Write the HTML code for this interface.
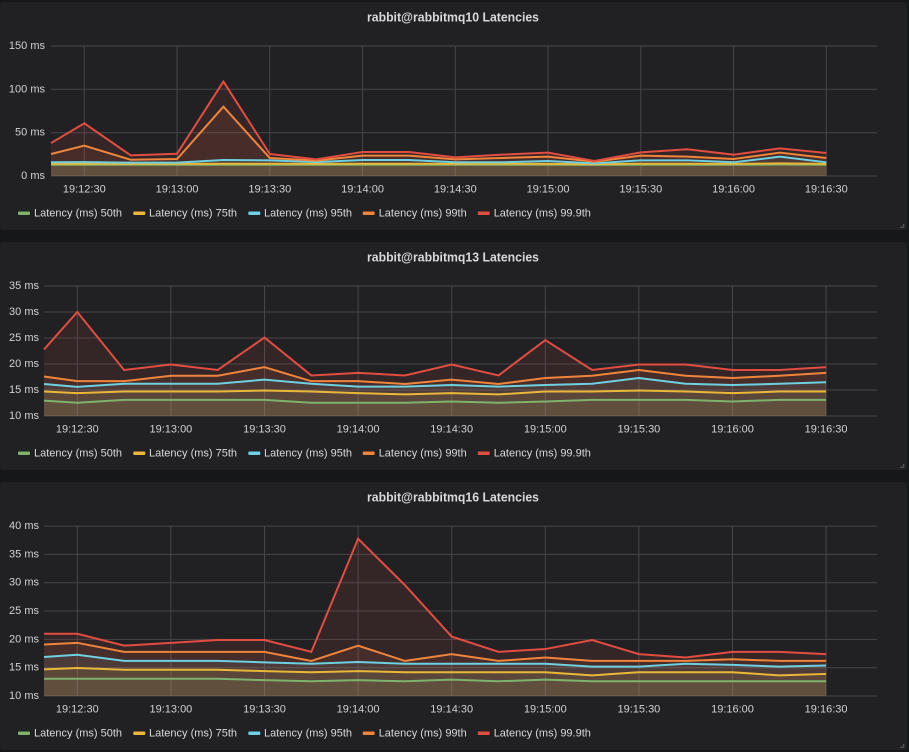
<!DOCTYPE html>
<html><head><meta charset="utf-8"><style>
html,body{margin:0;padding:0;background:#161719;}
svg{display:block;font-family:"Liberation Sans",sans-serif;}
.t{font-size:12.5px;font-weight:bold;fill:#d8d9da;}
.yl{font-size:11px;fill:#d0d1d3;text-anchor:end;}
.xl{font-size:11px;fill:#d0d1d3;text-anchor:middle;}
.lg{font-size:11px;fill:#d8d9da;}
.g{stroke:#46464a;stroke-width:1;}
.ln{fill:none;stroke-width:2;vector-effect:non-scaling-stroke;stroke-linejoin:miter;}
.fl{fill-opacity:0.1;stroke:none;}
</style></head><body>
<svg width="909" height="752" viewBox="0 0 909 752" xmlns="http://www.w3.org/2000/svg">
<rect x="0" y="0" width="909" height="752" fill="#161719"/>

<!-- ================= PANEL 1 ================= -->
<rect x="0" y="2" width="907" height="228" rx="3" fill="#212124"/>
<text class="t" x="453" y="21.5" text-anchor="middle" textLength="172" lengthAdjust="spacingAndGlyphs">rabbit@rabbitmq10 Latencies</text>
<g class="g">
<line x1="51" y1="46" x2="877" y2="46"/>
<line x1="51" y1="89.3" x2="877" y2="89.3"/>
<line x1="51" y1="132.7" x2="877" y2="132.7"/>
<line x1="51" y1="176" x2="877" y2="176"/>
<line x1="84.3" y1="46" x2="84.3" y2="176"/>
<line x1="177.05" y1="46" x2="177.05" y2="176"/>
<line x1="269.8" y1="46" x2="269.8" y2="176"/>
<line x1="362.55" y1="46" x2="362.55" y2="176"/>
<line x1="455.3" y1="46" x2="455.3" y2="176"/>
<line x1="548.05" y1="46" x2="548.05" y2="176"/>
<line x1="640.8" y1="46" x2="640.8" y2="176"/>
<line x1="733.55" y1="46" x2="733.55" y2="176"/>
<line x1="826.3" y1="46" x2="826.3" y2="176"/>
</g>
<text class="yl" x="45" y="49">150 ms</text>
<text class="yl" x="45" y="92.3">100 ms</text>
<text class="yl" x="45" y="135.7">50 ms</text>
<text class="yl" x="45" y="179">0 ms</text>
<text class="xl" x="84.3" y="192.3">19:12:30</text>
<text class="xl" x="177.05" y="192.3">19:13:00</text>
<text class="xl" x="269.8" y="192.3">19:13:30</text>
<text class="xl" x="362.55" y="192.3">19:14:00</text>
<text class="xl" x="455.3" y="192.3">19:14:30</text>
<text class="xl" x="548.05" y="192.3">19:15:00</text>
<text class="xl" x="640.8" y="192.3">19:15:30</text>
<text class="xl" x="733.55" y="192.3">19:16:00</text>
<text class="xl" x="826.3" y="192.3">19:16:30</text>
<g transform="matrix(46.375 0 0 -0.86667 84.3 176)">
<polygon class="fl" fill="#7EB26D" points="-0.718,13 0,13 1,13 2,13 3,13 4,13 5,13 6,13 7,13 8,13 9,13 10,13 11,12.8 12,13 13,13 14,13 15,13.2 16,13 16,0 -0.718,0"/>
<polygon class="fl" fill="#EAB839" points="-0.718,14 0,14 1,14 2,14 3,14.2 4,14.2 5,14 6,14.2 7,14.2 8,14 9,14 10,14 11,13.5 12,14.2 13,14.2 14,14 15,14.5 16,14 16,0 -0.718,0"/>
<polygon class="fl" fill="#6ED0E0" points="-0.718,15.8 0,16 1,15.4 2,15.4 3,18.5 4,18.1 5,16 6,18.5 7,18.5 8,15.8 9,15.8 10,17.3 11,14.6 12,18.1 13,18.1 14,15.8 15,22.3 16,15.8 16,0 -0.718,0"/>
<polygon class="fl" fill="#EF843C" points="-0.718,25.4 0,35 1,18.8 2,19.6 3,80 4,20.8 5,17.7 6,23.5 7,23.5 8,19.2 9,20.8 10,22.3 11,16.5 12,23.5 13,22.3 14,19.6 15,26.9 16,20.8 16,0 -0.718,0"/>
<polygon class="fl" fill="#E24D42" points="-0.718,38 0,60.8 1,23.8 2,25.7 3,109 4,25.4 5,19.2 6,27.7 7,27.7 8,21.5 9,24.6 10,26.9 11,17.3 12,27.3 13,30.8 14,24.6 15,31.9 16,26.5 16,0 -0.718,0"/>
<polyline class="ln" stroke="#7EB26D" points="-0.718,13 0,13 1,13 2,13 3,13 4,13 5,13 6,13 7,13 8,13 9,13 10,13 11,12.8 12,13 13,13 14,13 15,13.2 16,13"/>
<polyline class="ln" stroke="#EAB839" points="-0.718,14 0,14 1,14 2,14 3,14.2 4,14.2 5,14 6,14.2 7,14.2 8,14 9,14 10,14 11,13.5 12,14.2 13,14.2 14,14 15,14.5 16,14"/>
<polyline class="ln" stroke="#6ED0E0" points="-0.718,15.8 0,16 1,15.4 2,15.4 3,18.5 4,18.1 5,16 6,18.5 7,18.5 8,15.8 9,15.8 10,17.3 11,14.6 12,18.1 13,18.1 14,15.8 15,22.3 16,15.8"/>
<polyline class="ln" stroke="#EF843C" points="-0.718,25.4 0,35 1,18.8 2,19.6 3,80 4,20.8 5,17.7 6,23.5 7,23.5 8,19.2 9,20.8 10,22.3 11,16.5 12,23.5 13,22.3 14,19.6 15,26.9 16,20.8"/>
<polyline class="ln" stroke="#E24D42" points="-0.718,38 0,60.8 1,23.8 2,25.7 3,109 4,25.4 5,19.2 6,27.7 7,27.7 8,21.5 9,24.6 10,26.9 11,17.3 12,27.3 13,30.8 14,24.6 15,31.9 16,26.5"/>
</g>
<rect x="18" y="211.5" width="12" height="3.5" rx="1" fill="#7EB26D"/><text class="lg" x="34" y="216.7">Latency (ms) 50th</text>
<rect x="133.3" y="211.5" width="12" height="3.5" rx="1" fill="#EAB839"/><text class="lg" x="149" y="216.7">Latency (ms) 75th</text>
<rect x="248.3" y="211.5" width="12" height="3.5" rx="1" fill="#6ED0E0"/><text class="lg" x="264" y="216.7">Latency (ms) 95th</text>
<rect x="362.7" y="211.5" width="12" height="3.5" rx="1" fill="#EF843C"/><text class="lg" x="378.7" y="216.7">Latency (ms) 99th</text>
<rect x="477.7" y="211.5" width="12" height="3.5" rx="1" fill="#E24D42"/><text class="lg" x="493.7" y="216.7">Latency (ms) 99.9th</text>
<path d="M900 227.2 H904.2 M903.7 224 V227.7" stroke="#5c5c60" stroke-width="1.2" fill="none"/>

<!-- ================= PANEL 2 ================= -->
<rect x="0" y="242" width="907" height="228" rx="3" fill="#212124"/>
<text class="t" x="453" y="261.5" text-anchor="middle" textLength="172" lengthAdjust="spacingAndGlyphs">rabbit@rabbitmq13 Latencies</text>
<g class="g">
<line x1="44" y1="286" x2="877" y2="286"/>
<line x1="44" y1="312" x2="877" y2="312"/>
<line x1="44" y1="338" x2="877" y2="338"/>
<line x1="44" y1="364" x2="877" y2="364"/>
<line x1="44" y1="390" x2="877" y2="390"/>
<line x1="44" y1="416" x2="877" y2="416"/>
<line x1="77.3" y1="286" x2="77.3" y2="416"/>
<line x1="170.9" y1="286" x2="170.9" y2="416"/>
<line x1="264.5" y1="286" x2="264.5" y2="416"/>
<line x1="358.1" y1="286" x2="358.1" y2="416"/>
<line x1="451.7" y1="286" x2="451.7" y2="416"/>
<line x1="545.3" y1="286" x2="545.3" y2="416"/>
<line x1="638.9" y1="286" x2="638.9" y2="416"/>
<line x1="732.5" y1="286" x2="732.5" y2="416"/>
<line x1="826.1" y1="286" x2="826.1" y2="416"/>
</g>
<text class="yl" x="39" y="289">35 ms</text>
<text class="yl" x="39" y="315">30 ms</text>
<text class="yl" x="39" y="341">25 ms</text>
<text class="yl" x="39" y="367">20 ms</text>
<text class="yl" x="39" y="393">15 ms</text>
<text class="yl" x="39" y="419">10 ms</text>
<text class="xl" x="77.3" y="432.3">19:12:30</text>
<text class="xl" x="170.9" y="432.3">19:13:00</text>
<text class="xl" x="264.5" y="432.3">19:13:30</text>
<text class="xl" x="358.1" y="432.3">19:14:00</text>
<text class="xl" x="451.7" y="432.3">19:14:30</text>
<text class="xl" x="545.3" y="432.3">19:15:00</text>
<text class="xl" x="638.9" y="432.3">19:15:30</text>
<text class="xl" x="732.5" y="432.3">19:16:00</text>
<text class="xl" x="826.1" y="432.3">19:16:30</text>
<g transform="matrix(46.8 0 0 -5.2 77.3 468)">
<polygon class="fl" fill="#7EB26D" points="-0.7115,12.95 0,12.55 1,13.1 2,13.1 3,13.1 4,13.1 5,12.55 6,12.55 7,12.55 8,12.8 9,12.55 10,12.8 11,13.1 12,13.1 13,13.1 14,12.8 15,13.1 16,13.1 16,10 -0.7115,10"/>
<polygon class="fl" fill="#EAB839" points="-0.7115,14.7 0,14.4 1,14.7 2,14.7 3,14.7 4,14.9 5,14.7 6,14.4 7,14.15 8,14.4 9,14.15 10,14.7 11,14.7 12,14.9 13,14.7 14,14.4 15,14.7 16,14.7 16,10 -0.7115,10"/>
<polygon class="fl" fill="#6ED0E0" points="-0.7115,16.15 0,15.6 1,16.2 2,16.2 3,16.2 4,17 5,16.2 6,15.65 7,15.65 8,15.95 9,15.65 10,15.95 11,16.2 12,17.3 13,16.2 14,15.95 15,16.2 16,16.5 16,10 -0.7115,10"/>
<polygon class="fl" fill="#EF843C" points="-0.7115,17.6 0,16.7 1,16.7 2,17.75 3,17.75 4,19.4 5,16.7 6,16.7 7,16.15 8,17 9,16.15 10,17.3 11,17.75 12,18.85 13,17.75 14,17.3 15,17.75 16,18.3 16,10 -0.7115,10"/>
<polygon class="fl" fill="#E24D42" points="-0.7115,22.8 0,30 1,18.85 2,19.9 3,18.85 4,25.1 5,17.8 6,18.3 7,17.8 8,19.9 9,17.8 10,24.6 11,18.85 12,19.9 13,19.9 14,18.85 15,18.85 16,19.4 16,10 -0.7115,10"/>
<polyline class="ln" stroke="#7EB26D" points="-0.7115,12.95 0,12.55 1,13.1 2,13.1 3,13.1 4,13.1 5,12.55 6,12.55 7,12.55 8,12.8 9,12.55 10,12.8 11,13.1 12,13.1 13,13.1 14,12.8 15,13.1 16,13.1"/>
<polyline class="ln" stroke="#EAB839" points="-0.7115,14.7 0,14.4 1,14.7 2,14.7 3,14.7 4,14.9 5,14.7 6,14.4 7,14.15 8,14.4 9,14.15 10,14.7 11,14.7 12,14.9 13,14.7 14,14.4 15,14.7 16,14.7"/>
<polyline class="ln" stroke="#6ED0E0" points="-0.7115,16.15 0,15.6 1,16.2 2,16.2 3,16.2 4,17 5,16.2 6,15.65 7,15.65 8,15.95 9,15.65 10,15.95 11,16.2 12,17.3 13,16.2 14,15.95 15,16.2 16,16.5"/>
<polyline class="ln" stroke="#EF843C" points="-0.7115,17.6 0,16.7 1,16.7 2,17.75 3,17.75 4,19.4 5,16.7 6,16.7 7,16.15 8,17 9,16.15 10,17.3 11,17.75 12,18.85 13,17.75 14,17.3 15,17.75 16,18.3"/>
<polyline class="ln" stroke="#E24D42" points="-0.7115,22.8 0,30 1,18.85 2,19.9 3,18.85 4,25.1 5,17.8 6,18.3 7,17.8 8,19.9 9,17.8 10,24.6 11,18.85 12,19.9 13,19.9 14,18.85 15,18.85 16,19.4"/>
</g>
<rect x="18" y="451.5" width="12" height="3.5" rx="1" fill="#7EB26D"/><text class="lg" x="34" y="456.7">Latency (ms) 50th</text>
<rect x="133.3" y="451.5" width="12" height="3.5" rx="1" fill="#EAB839"/><text class="lg" x="149" y="456.7">Latency (ms) 75th</text>
<rect x="248.3" y="451.5" width="12" height="3.5" rx="1" fill="#6ED0E0"/><text class="lg" x="264" y="456.7">Latency (ms) 95th</text>
<rect x="362.7" y="451.5" width="12" height="3.5" rx="1" fill="#EF843C"/><text class="lg" x="378.7" y="456.7">Latency (ms) 99th</text>
<rect x="477.7" y="451.5" width="12" height="3.5" rx="1" fill="#E24D42"/><text class="lg" x="493.7" y="456.7">Latency (ms) 99.9th</text>
<path d="M900 467.2 H904.2 M903.7 464 V467.7" stroke="#5c5c60" stroke-width="1.2" fill="none"/>

<!-- ================= PANEL 3 ================= -->
<rect x="0" y="482" width="907" height="268" rx="3" fill="#212124"/>
<text class="t" x="453" y="501.5" text-anchor="middle" textLength="172" lengthAdjust="spacingAndGlyphs">rabbit@rabbitmq16 Latencies</text>
<g class="g">
<line x1="44" y1="526.1" x2="877" y2="526.1"/>
<line x1="44" y1="554.4" x2="877" y2="554.4"/>
<line x1="44" y1="582.7" x2="877" y2="582.7"/>
<line x1="44" y1="611" x2="877" y2="611"/>
<line x1="44" y1="639.4" x2="877" y2="639.4"/>
<line x1="44" y1="667.7" x2="877" y2="667.7"/>
<line x1="44" y1="696" x2="877" y2="696"/>
<line x1="77.3" y1="526" x2="77.3" y2="696"/>
<line x1="170.9" y1="526" x2="170.9" y2="696"/>
<line x1="264.5" y1="526" x2="264.5" y2="696"/>
<line x1="358.1" y1="526" x2="358.1" y2="696"/>
<line x1="451.7" y1="526" x2="451.7" y2="696"/>
<line x1="545.3" y1="526" x2="545.3" y2="696"/>
<line x1="638.9" y1="526" x2="638.9" y2="696"/>
<line x1="732.5" y1="526" x2="732.5" y2="696"/>
<line x1="826.1" y1="526" x2="826.1" y2="696"/>
</g>
<text class="yl" x="39" y="529.1">40 ms</text>
<text class="yl" x="39" y="557.4">35 ms</text>
<text class="yl" x="39" y="585.7">30 ms</text>
<text class="yl" x="39" y="614">25 ms</text>
<text class="yl" x="39" y="642.4">20 ms</text>
<text class="yl" x="39" y="670.7">15 ms</text>
<text class="yl" x="39" y="699">10 ms</text>
<text class="xl" x="77.3" y="712.3">19:12:30</text>
<text class="xl" x="170.9" y="712.3">19:13:00</text>
<text class="xl" x="264.5" y="712.3">19:13:30</text>
<text class="xl" x="358.1" y="712.3">19:14:00</text>
<text class="xl" x="451.7" y="712.3">19:14:30</text>
<text class="xl" x="545.3" y="712.3">19:15:00</text>
<text class="xl" x="638.9" y="712.3">19:15:30</text>
<text class="xl" x="732.5" y="712.3">19:16:00</text>
<text class="xl" x="826.1" y="712.3">19:16:30</text>
<g transform="matrix(46.8 0 0 -5.657 77.3 752.57)">
<polygon class="fl" fill="#7EB26D" points="-0.7115,13.05 0,13.05 1,13.05 2,13.05 3,13.05 4,12.8 5,12.6 6,12.8 7,12.6 8,12.9 9,12.6 10,12.9 11,12.6 12,12.6 13,12.6 14,12.6 15,12.6 16,12.6 16,10 -0.7115,10"/>
<polygon class="fl" fill="#EAB839" points="-0.7115,14.7 0,14.95 1,14.65 2,14.65 3,14.65 4,14.4 5,14.2 6,14.4 7,14.2 8,14.2 9,14.2 10,14.2 11,13.65 12,14.2 13,14.2 14,14.2 15,13.65 16,13.9 16,10 -0.7115,10"/>
<polygon class="fl" fill="#6ED0E0" points="-0.7115,16.9 0,17.3 1,16.2 2,16.2 3,16.2 4,15.95 5,15.7 6,16 7,15.7 8,15.7 9,15.7 10,15.7 11,15.2 12,15.2 13,15.7 14,15.5 15,15.2 16,15.4 16,10 -0.7115,10"/>
<polygon class="fl" fill="#EF843C" points="-0.7115,19.1 0,19.4 1,17.8 2,17.8 3,17.8 4,17.8 5,16.2 6,18.9 7,16.2 8,17.4 9,16.2 10,16.8 11,16.2 12,16.2 13,16.2 14,16.5 15,16.2 16,16.2 16,10 -0.7115,10"/>
<polygon class="fl" fill="#E24D42" points="-0.7115,21 0,21 1,18.9 2,19.4 3,19.9 4,19.9 5,17.8 6,37.8 7,29.6 8,20.5 9,17.8 10,18.3 11,19.9 12,17.4 13,16.8 14,17.8 15,17.8 16,17.4 16,10 -0.7115,10"/>
<polyline class="ln" stroke="#7EB26D" points="-0.7115,13.05 0,13.05 1,13.05 2,13.05 3,13.05 4,12.8 5,12.6 6,12.8 7,12.6 8,12.9 9,12.6 10,12.9 11,12.6 12,12.6 13,12.6 14,12.6 15,12.6 16,12.6"/>
<polyline class="ln" stroke="#EAB839" points="-0.7115,14.7 0,14.95 1,14.65 2,14.65 3,14.65 4,14.4 5,14.2 6,14.4 7,14.2 8,14.2 9,14.2 10,14.2 11,13.65 12,14.2 13,14.2 14,14.2 15,13.65 16,13.9"/>
<polyline class="ln" stroke="#6ED0E0" points="-0.7115,16.9 0,17.3 1,16.2 2,16.2 3,16.2 4,15.95 5,15.7 6,16 7,15.7 8,15.7 9,15.7 10,15.7 11,15.2 12,15.2 13,15.7 14,15.5 15,15.2 16,15.4"/>
<polyline class="ln" stroke="#EF843C" points="-0.7115,19.1 0,19.4 1,17.8 2,17.8 3,17.8 4,17.8 5,16.2 6,18.9 7,16.2 8,17.4 9,16.2 10,16.8 11,16.2 12,16.2 13,16.2 14,16.5 15,16.2 16,16.2"/>
<polyline class="ln" stroke="#E24D42" points="-0.7115,21 0,21 1,18.9 2,19.4 3,19.9 4,19.9 5,17.8 6,37.8 7,29.6 8,20.5 9,17.8 10,18.3 11,19.9 12,17.4 13,16.8 14,17.8 15,17.8 16,17.4"/>
</g>
<rect x="18" y="731.5" width="12" height="3.5" rx="1" fill="#7EB26D"/><text class="lg" x="34" y="736.7">Latency (ms) 50th</text>
<rect x="133.3" y="731.5" width="12" height="3.5" rx="1" fill="#EAB839"/><text class="lg" x="149" y="736.7">Latency (ms) 75th</text>
<rect x="248.3" y="731.5" width="12" height="3.5" rx="1" fill="#6ED0E0"/><text class="lg" x="264" y="736.7">Latency (ms) 95th</text>
<rect x="362.7" y="731.5" width="12" height="3.5" rx="1" fill="#EF843C"/><text class="lg" x="378.7" y="736.7">Latency (ms) 99th</text>
<rect x="477.7" y="731.5" width="12" height="3.5" rx="1" fill="#E24D42"/><text class="lg" x="493.7" y="736.7">Latency (ms) 99.9th</text>
<path d="M900 747.2 H904.2 M903.7 744 V747.7" stroke="#5c5c60" stroke-width="1.2" fill="none"/>
</svg>
</body></html>
